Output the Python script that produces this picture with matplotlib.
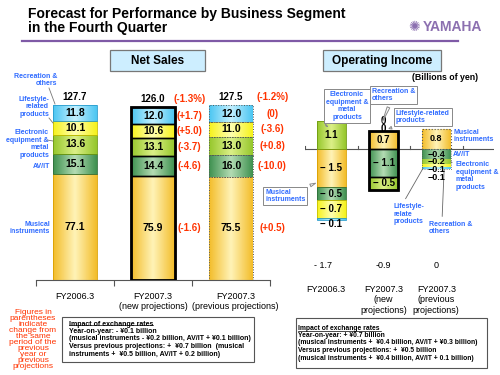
import numpy as np
import matplotlib
matplotlib.use("Agg")
import matplotlib.pyplot as plt
from matplotlib.colors import LinearSegmentedColormap
from matplotlib.transforms import blended_transform_factory

plt.rcParams['font.family'] = ['Liberation Sans', 'DejaVu Sans']

# ---- data ----
segments = ["Musical instruments", "AV/IT", "Electronic equipment & metal products",
            "Lifestyle-related products", "Recreation & others"]
periods = ["FY2006.3", "FY2007.3\n(new projections)", "FY2007.3\n(previous projections)"]
periods_oi = ["FY2006.3", "FY2007.3\n(new\nprojections)", "FY2007.3\n(previous\nprojections)"]

# net sales (billions of yen), rows = periods, cols = segments
sales = [[77.1, 15.1, 13.6, 10.1, 11.8],
         [75.9, 14.4, 13.1, 10.6, 12.0],
         [75.5, 16.0, 13.0, 11.0, 12.0]]
sales_total = [127.7, 126.0, 127.5]
sales_chg_new = ["(-1.6)", "(-4.6)", "(-3.7)", "(+5.0)", "(+1.7)"]
sales_chg_prev = ["(+0.5)", "(-10.0)", "(+0.8)", "(-3.6)", "(0)"]
total_chg = ["", "(-1.3%)", "(-1.2%)"]

# operating income
oi = [[-1.5, -0.5, 1.1, -0.7, -0.1],
      [0.7, -1.1, -0.5, 0.0, 0.0],
      [0.8, -0.4, -0.2, -0.1, -0.1]]
oi_total = ["- 1.7", "-0.9", "0"]

edge_cols = ["#f3bd2a", "#3f9150", "#96c72c", "#f6f21c", "#4cc6f2"]
mid_cols = ["#fff3b8", "#b4dcb4", "#dcf088", "#ffffb0", "#c4f0ff"]
border_cols = ["#d9a000", "#2f6f3a", "#6f9a10", "#c8c000", "#2a9ccc"]

BLUE = "#2f6bff"
RED = "#ff3300"

fig = plt.figure(figsize=(5, 3.75), dpi=100)


def px(x, y):
    return (x / 500, 1 - y / 375)


def grad_bar(ax, x, h, bottom, w, i, ec, lw, ls='-'):
    b = ax.bar(x, h, w, bottom=bottom, color='none', edgecolor=ec, lw=lw, ls=ls, zorder=3)[0]
    cmap = LinearSegmentedColormap.from_list('g', [edge_cols[i], mid_cols[i], edge_cols[i]])
    lo, hi = sorted([bottom, bottom + h])
    im = ax.imshow(np.linspace(0, 1, 64).reshape(1, -1), cmap=cmap, aspect='auto',
                   extent=[x - w / 2, x + w / 2, lo, hi], zorder=2)
    im.set_clip_path(b)
    return b


# ---- title ----
fig.text(*px(28, 21), "Forecast for Performance by Business Segment\nin the Fourth Quarter",
         fontsize=10, fontweight='bold', va='center', ha='left', linespacing=1.05)
fig.add_artist(plt.Line2D([22 / 500, 458 / 500], [1 - 41 / 375] * 2, color="#7f5aa6", lw=1.6))
fig.text(*px(414, 27), "\u273A", fontsize=10, color="#8c70b0", ha='center', va='center',
         family='DejaVu Sans')
fig.text(*px(452, 27), "YAMAHA", fontsize=10, fontweight='bold', color="#8c70b0",
         ha='center', va='center')

for x0, x1, label in [(110, 205, "Net Sales"), (323, 441, "Operating Income")]:
    fig.add_artist(plt.Rectangle(px(x0, 71), (x1 - x0) / 500, 21 / 375, fc="#cdeeff",
                                 ec="#777777", lw=0.9))
    fig.text(*px((x0 + x1) / 2, 61), label, fontsize=8.5, fontweight='bold', ha='center',
             va='center')

fig.text(*px(478, 77), "(Billions of yen)", fontsize=6.3, fontweight='bold', ha='right',
         va='center')

# ---- net sales panel ----
ax1 = fig.add_axes([36 / 500, 95 / 375, 234 / 500, 205.5 / 375])
W = 0.56
for p in range(3):
    bottom = 0
    for i, v in enumerate(sales[p]):
        if p == 0:
            grad_bar(ax1, p, v, bottom, W, i, border_cols[i], 0.6)
        elif p == 1:
            grad_bar(ax1, p, v, bottom, W, i, 'black', 1.0)
        else:
            grad_bar(ax1, p, v, bottom, W, i, '#555555', 0.7, ':')
        ax1.text(p, bottom + v / 2, f"{v:.1f}", ha='center', va='center', fontsize=7.5,
                 fontweight='bold', zorder=5)
        bottom += v
    ax1.text(p, sales_total[p] + 2.5, f"{sales_total[p]:.1f}", ha='center', va='bottom',
             fontsize=7, fontweight='bold')
ax1.bar(1, sales_total[1], W, color='none', edgecolor='black', lw=2.0, zorder=4)

for p, chg, xo in [(1, sales_chg_new, 1.47), (2, sales_chg_prev, 2.53)]:
    cum = np.cumsum([0] + sales[p])
    for i, c in enumerate(chg):
        ax1.text(xo, (cum[i] + cum[i + 1]) / 2, c, ha='center', va='center', fontsize=7,
                 fontweight='bold', color=RED)
    ax1.text(xo, sales_total[p] + 2.5, total_chg[p], ha='center', va='bottom', fontsize=7,
             fontweight='bold', color=RED)

ax1.set_xlim(-0.5, 2.5)
ax1.set_ylim(0, 150)
for s in ['top', 'right', 'left']:
    ax1.spines[s].set_visible(False)
ax1.spines['bottom'].set_color('#555555')
ax1.set_yticks([])
ax1.set_xticks([-0.5, 0.5, 1.5, 2.5])
ax1.set_xticklabels([])
ax1.tick_params(axis='x', direction='out', length=4, color='#555555')
tr1 = blended_transform_factory(ax1.transData, fig.transFigure)
for p, lab in enumerate(periods):
    ax1.text(p + (0.06 if p == 2 else 0), 1 - 292 / 375, lab, transform=tr1, ha='center',
             va='top', fontsize=6.5, linespacing=1.2)

# left segment labels
left_labels = [("Recreation &\nothers", 57, 80),
               ("Lifestyle-\nrelated\nproducts", 49, 107),
               ("Electronic\nequipment &\nmetal\nproducts", 49, 144),
               ("AV/IT", 50, 167),
               ("Musical\ninstruments", 50, 228)]
for txt, x, y in left_labels:
    fig.text(*px(x, y), txt, ha='right', va='center', fontsize=5, fontweight='bold',
             color=BLUE, linespacing=1.15)
for lx0, ly0, lx1, ly1 in [(49, 88, 55, 104), (49, 118, 53, 123), (47, 140, 53, 141)]:
    fig.add_artist(plt.Line2D([lx0 / 500, lx1 / 500], [1 - ly0 / 375, 1 - ly1 / 375],
                              color='#777777', lw=0.6))

fig.text(*px(33, 340), "Figures in\nparentheses\nindicate\nchange from\nthe same\nperiod of the\n"
         "previous\nyear or\nprevious\nprojections", ha='center', va='center', fontsize=6,
         color=RED, linespacing=0.8)

fig.text(*px(69, 339), "Impact of exchange rates\nYear-on-year: - \u00a50.1 billion\n"
         "(musical instruments - \u00a50.2 billion, AV/IT + \u00a50.1 billion)\n"
         "Versus previous projections: +  \u00a50.7 billion  (musical\n"
         "instruments +  \u00a50.5 billion, AV/IT + 0.2 billion)",
         ha='left', va='center', fontsize=5.0, fontweight='bold', linespacing=1.1)
fig.add_artist(plt.Rectangle((62 / 500, 1 - 362 / 375), 192 / 500, 45 / 375, fill=False,
                             ec='#555555', lw=0.8))
fig.add_artist(plt.Line2D([69 / 500, 153 / 500], [1 - 324.5 / 375] * 2, color='black', lw=0.5))

# ---- operating income panel ----
ax2 = fig.add_axes([305 / 500, 1 - 225.5 / 375, 189 / 500, 122.4 / 375])
W2 = 0.55
lab_pos = {(0, 4): -2.95, (2, 3): -0.8, (2, 4): -1.1, (1, 3): 0.8, (1, 4): 1.08}
for p in range(3):
    pos, neg = 0.0, 0.0
    for i, v in enumerate(oi[p]):
        if v >= 0:
            base = pos
            pos += v
        else:
            base = neg
            neg += v
        if v != 0:
            if p == 0:
                grad_bar(ax2, p, v, base, W2, i, border_cols[i], 0.6)
            elif p == 1:
                grad_bar(ax2, p, v, base, W2, i, 'black', 1.0)
            else:
                grad_bar(ax2, p, v, base, W2, i, 'none', 0.6)
        if v > 0:
            s = f"{v:.1f}"
        elif v < 0:
            s = f"\u2212 {abs(v):.1f}" if p < 2 else f"\u2212{abs(v):.1f}"
        else:
            s = "0"
        y = lab_pos.get((p, i), base + v / 2)
        ax2.text(p, y, s, ha='center', va='center', fontsize=7 if p < 2 else 6.5,
                 fontweight='bold', zorder=5)
    if p == 1:
        ax2.bar(p, pos - neg, W2, bottom=neg, color='none', edgecolor='black', lw=2.0, zorder=4)
    if p == 2:
        ax2.bar(p, oi[p][0], W2, color='none', edgecolor='#555555', lw=0.8, ls=':', zorder=4)
        ax2.bar(p, neg, W2, color='none', edgecolor='#555555', lw=0.6, ls=':', zorder=4)

ax2.set_xlim(-0.5, 3.1)
ax2.set_ylim(-3.0, 1.8)
for s in ['top', 'right', 'left', 'bottom']:
    ax2.spines[s].set_visible(False)
ax2.axhline(0, color='#555555', lw=0.8, zorder=1)
ax2.set_yticks([])
ax2.set_xticks([])
for t in [-0.5, 0.5, 1.5, 2.5]:
    ax2.plot([t, t], [0, 0.12], color='#555555', lw=0.8, zorder=1)

tr2 = blended_transform_factory(ax2.transData, fig.transFigure)
for p in range(3):
    ax2.text(p - 0.15 if p == 0 else p, 1 - 266 / 375, oi_total[p], transform=tr2,
             ha='center', va='center', fontsize=6.5)
    ax2.text(p - 0.1 if p == 0 else p, 1 - 285 / 375, periods_oi[p], transform=tr2,
             ha='center', va='top', fontsize=6.5, linespacing=1.2)

# callouts
callout_box = dict(boxstyle='square,pad=0.3', fc='white', ec='#888888', lw=0.7)
callout_arrow = dict(arrowstyle='wedge,tail_width=0.4', fc='white', ec='#888888', lw=0.7)
for txt, xy, tx, ty, ha in [
        ("Electronic\nequipment &\nmetal\nproducts", (-0.1, 0.9), 347, 106, 'center'),
        ("Musical\ninstruments", (-0.25, -1.3), 265, 196, 'left'),
        ("Recreation &\nothers", (0.95, 0.95), 372, 95, 'left'),
        ("Lifestyle-related\nproducts", (1.1, 0.8), 396, 117, 'left')]:
    ax2.annotate(txt, xy=xy, xytext=px(tx, ty), textcoords='figure fraction', ha=ha,
                 va='center', fontsize=5, fontweight='bold', color=BLUE, linespacing=1.15,
                 bbox=callout_box, arrowprops=callout_arrow, zorder=6)

for txt, xy, tx, ty in [
        ("Musical\ninstruments", None, 453, 136),
        ("AV/IT", None, 453, 154),
        ("Electronic\nequipment &\nmetal\nproducts", (2.28, -0.5), 456, 176),
        ("Lifestyle-\nrelate\nproducts", (1.75, -0.75), 394, 214),
        ("Recreation &\nothers", (2.15, -0.8), 429, 228)]:
    if xy is None:
        fig.text(*px(tx, ty), txt, ha='left', va='center', fontsize=5, fontweight='bold',
                 color=BLUE, linespacing=1.15)
    else:
        ax2.annotate(txt, xy=xy, xytext=px(tx, ty), textcoords='figure fraction', ha='left',
                     va='center', fontsize=5, fontweight='bold', color=BLUE, linespacing=1.15,
                     arrowprops=dict(arrowstyle='-', color='#666666', lw=0.6,
                                     shrinkA=1, shrinkB=0,
                                     relpos=(0.3, 1.0) if ty > 200 else (0, 0.85)))

fig.text(*px(298, 343), "Impact of exchange rates\nYear-on-year: + \u00a50.7 billion\n"
         "(musical instruments +  \u00a50.4 billion, AV/IT + \u00a50.3 billion)\n"
         "Versus previous projections: +  \u00a50.5 billion\n"
         "(musical instruments +  \u00a50.4 billion, AV/IT + 0.1 billion)",
         ha='left', va='center', fontsize=4.9, fontweight='bold', linespacing=1.1)
fig.add_artist(plt.Rectangle((296 / 500, 1 - 368 / 375), 191 / 500, 50 / 375, fill=False,
                             ec='#555555', lw=0.8))
fig.add_artist(plt.Line2D([298 / 500, 381 / 500], [1 - 330.5 / 375] * 2, color='black', lw=0.5))

fig.savefig("out.png", dpi=100)
